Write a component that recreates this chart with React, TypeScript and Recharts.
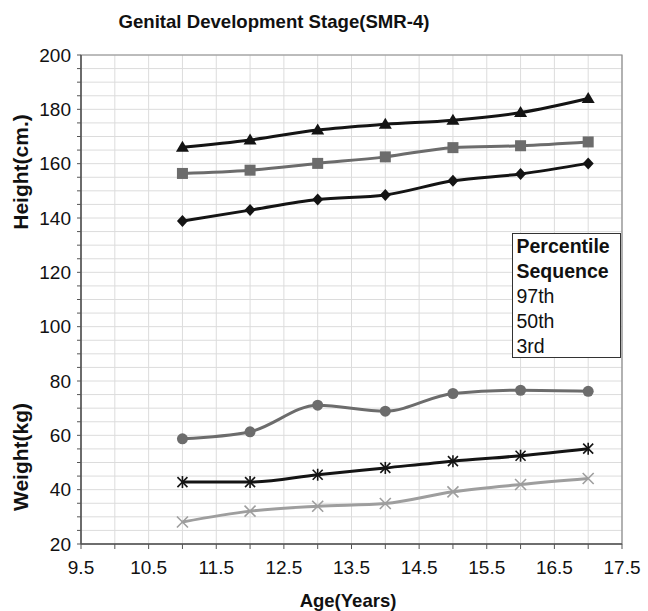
import React from "react";
import { LineChart, Line, XAxis, YAxis, CartesianGrid, ReferenceArea } from "recharts";

const ages = [11, 12, 13, 14, 15, 16, 17];

// Height (cm)
const height97 = [166, 168.7, 172.4, 174.5, 176, 178.8, 184];
const height50 = [156.4, 157.6, 160.1, 162.5, 165.9, 166.6, 168];
const height3 = [138.9, 142.9, 146.8, 148.5, 153.7, 156.2, 160.1];

// Weight (kg)
const weight97 = [58.7, 61.3, 71.1, 68.9, 75.4, 76.6, 76.2];
const weight50 = [42.8, 42.8, 45.5, 48, 50.5, 52.5, 55.1];
const weight3 = [28.1, 32.1, 33.9, 34.9, 39.2, 41.9, 44.1];

const xTicks = [9.5, 10, 10.5, 11, 11.5, 12, 12.5, 13, 13.5, 14, 14.5, 15, 15.5, 16, 16.5, 17, 17.5];
const xLabels = [9.5, 10.5, 11.5, 12.5, 13.5, 14.5, 15.5, 16.5, 17.5];
const yTicks = [
  20, 25, 30, 35, 40, 45, 50, 55, 60, 65, 70, 75, 80, 85, 90, 95, 100, 105, 110,
  115, 120, 125, 130, 135, 140, 145, 150, 155, 160, 165, 170, 175, 180, 185, 190, 195, 200,
];
const yLabels = [20, 40, 60, 80, 100, 120, 140, 160, 180, 200];
const legendLines = ["97th", "50th", "3rd"];

const data = ages.map((age, i) => ({
  age,
  h97: height97[i],
  h50: height50[i],
  h3: height3[i],
  w97: weight97[i],
  w50: weight50[i],
  w3: weight3[i],
}));

const BLACK = "#141414";
const GREY = "#6c6c6c";
const LIGHT = "#9e9e9e";
const FONT = "'Liberation Sans', Arial, sans-serif";

const Triangle = (p: any) => (
  <path d={`M${p.cx},${p.cy - 6.5} L${p.cx + 6.5},${p.cy + 4.5} L${p.cx - 6.5},${p.cy + 4.5} Z`} fill={BLACK} />
);
const Square = (p: any) => <rect x={p.cx - 5.5} y={p.cy - 5.5} width={11} height={11} fill={GREY} />;
const Diamond = (p: any) => (
  <path d={`M${p.cx},${p.cy - 6} L${p.cx + 5.5},${p.cy} L${p.cx},${p.cy + 6} L${p.cx - 5.5},${p.cy} Z`} fill={BLACK} />
);
const Circle = (p: any) => <circle cx={p.cx} cy={p.cy} r={5.5} fill={GREY} />;
const Star = (p: any) => (
  <g stroke={BLACK} strokeWidth={1.6}>
    <line x1={p.cx - 5} y1={p.cy - 5} x2={p.cx + 5} y2={p.cy + 5} />
    <line x1={p.cx - 5} y1={p.cy + 5} x2={p.cx + 5} y2={p.cy - 5} />
    <line x1={p.cx} y1={p.cy - 6} x2={p.cx} y2={p.cy + 6} />
  </g>
);
const Cross = (p: any) => (
  <g stroke={LIGHT} strokeWidth={1.6}>
    <line x1={p.cx - 5.5} y1={p.cy - 5.5} x2={p.cx + 5.5} y2={p.cy + 5.5} />
    <line x1={p.cx - 5.5} y1={p.cy + 5.5} x2={p.cx + 5.5} y2={p.cy - 5.5} />
  </g>
);

const centered = (left: number, top: number, size: number, rotate = false): React.CSSProperties => ({
  position: "absolute",
  left,
  top,
  fontFamily: FONT,
  fontSize: size,
  fontWeight: "bold",
  color: "#111",
  whiteSpace: "nowrap",
  lineHeight: 1,
  transform: `translate(-50%, -50%)${rotate ? " rotate(-90deg)" : ""}`,
});

export default function App() {
  return (
    <div style={{ position: "absolute", left: 0, top: 0, width: 648, height: 611, background: "#fff" }}>
      <LineChart width={648} height={611} data={data} margin={{ top: 55, right: 26, bottom: 37, left: 17 }}>
        <CartesianGrid stroke="#dcdcdc" strokeWidth={1} />
        <ReferenceArea x1={9.5} x2={17.5} y1={20} y2={200} fill="none" stroke="#8a8a8a" strokeWidth={1.2} />
        <XAxis
          dataKey="age"
          type="number"
          domain={[9.5, 17.5]}
          ticks={xTicks}
          interval={0}
          height={30}
          tickFormatter={(v: number) => (xLabels.includes(v) ? String(v) : "")}
          tick={{ fill: "#111", fontSize: 19, fontFamily: FONT }}
          tickSize={5}
          tickMargin={12}
          axisLine={{ stroke: "#555", strokeWidth: 1.5 }}
          tickLine={{ stroke: "#555" }}
        />
        <YAxis
          type="number"
          domain={[20, 200]}
          ticks={yTicks}
          interval={0}
          width={64}
          tickFormatter={(v: number) => (yLabels.includes(v) ? String(v) : "")}
          tick={{ fill: "#111", fontSize: 19, fontFamily: FONT }}
          tickSize={4}
          tickMargin={6}
          axisLine={{ stroke: "#555", strokeWidth: 1.5 }}
          tickLine={{ stroke: "#555" }}
        />
        <Line type="monotone" dataKey="h97" stroke={BLACK} strokeWidth={3} dot={Triangle} isAnimationActive={false} />
        <Line type="monotone" dataKey="h50" stroke={GREY} strokeWidth={3} dot={Square} isAnimationActive={false} />
        <Line type="monotone" dataKey="h3" stroke={BLACK} strokeWidth={3} dot={Diamond} isAnimationActive={false} />
        <Line type="monotone" dataKey="w97" stroke={GREY} strokeWidth={3} dot={Circle} isAnimationActive={false} />
        <Line type="monotone" dataKey="w50" stroke={BLACK} strokeWidth={3} dot={Star} isAnimationActive={false} />
        <Line type="monotone" dataKey="w3" stroke={LIGHT} strokeWidth={3} dot={Cross} isAnimationActive={false} />
      </LineChart>

      <div style={centered(274, 22, 18.6)}>Genital Development Stage(SMR-4)</div>
      <div style={centered(348, 601, 18.5)}>Age(Years)</div>
      <div style={centered(20, 172, 21, true)}>Height(cm.)</div>
      <div style={centered(20, 457, 21, true)}>Weight(kg)</div>

      <div
        style={{
          position: "absolute",
          left: 512,
          top: 233,
          width: 109,
          height: 125,
          border: "1.5px solid #333",
          background: "#fff",
          fontFamily: FONT,
          fontSize: 19.5,
          color: "#111",
          lineHeight: "25px",
          paddingLeft: 3.5,
          paddingTop: 0,
          boxSizing: "border-box",
        }}
      >
        <div style={{ fontWeight: "bold" }}>Percentile</div>
        <div style={{ fontWeight: "bold" }}>Sequence</div>
        {legendLines.map((t) => (
          <div key={t}>{t}</div>
        ))}
      </div>
    </div>
  );
}
